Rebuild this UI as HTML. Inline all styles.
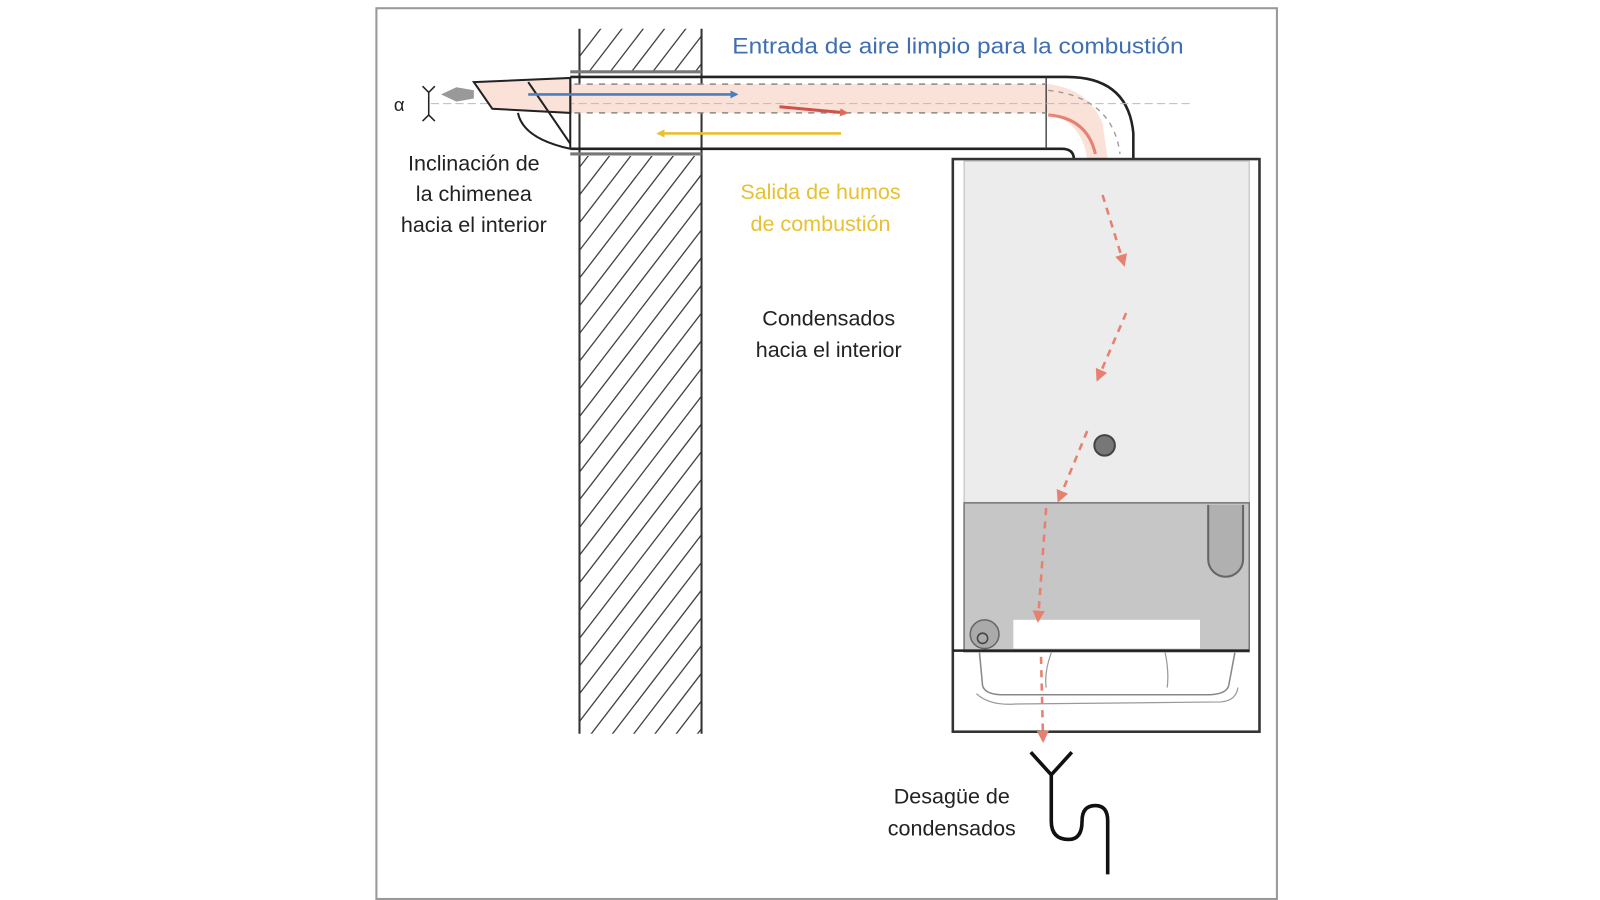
<!DOCTYPE html>
<html><head><meta charset="utf-8"><style>
html,body{margin:0;padding:0;background:#fff;width:1600px;height:900px;overflow:hidden;}
svg{display:block;}
text{font-family:"Liberation Sans",Arial,sans-serif;}
</style></head><body>
<svg width="1600" height="900" viewBox="0 0 1560 877" preserveAspectRatio="none" xmlns="http://www.w3.org/2000/svg">
<defs>
<clipPath id="wallclip"><rect x="565" y="28" width="119" height="687"/></clipPath>
<marker id="ar" markerWidth="8" markerHeight="8" refX="6" refY="4" orient="auto" markerUnits="userSpaceOnUse"><path d="M0,0 L8,4 L0,8 z" fill="#e06a5a"/></marker>
<marker id="ab" markerWidth="8" markerHeight="8" refX="6" refY="4" orient="auto" markerUnits="userSpaceOnUse"><path d="M0,0 L8,4 L0,8 z" fill="#4a7fc0"/></marker>
<marker id="ay" markerWidth="8" markerHeight="8" refX="6" refY="4" orient="auto" markerUnits="userSpaceOnUse"><path d="M0,0 L8,4 L0,8 z" fill="#e8c030"/></marker>
<marker id="ad" markerWidth="14" markerHeight="14" refX="10" refY="7" orient="auto" markerUnits="userSpaceOnUse"><path d="M0,1 L12,7 L0,13 z" fill="#e88070"/></marker>
</defs>
<rect x="367" y="8" width="878" height="868" fill="#fff" stroke="#999" stroke-width="2"/>
<!-- wall -->
<g clip-path="url(#wallclip)" stroke="#444" stroke-width="1.3">
<path d="M565,55 l119,-155 M565,82 l119,-155 M565,109 l119,-155 M565,136 l119,-155 M565,163 l119,-155 M565,190 l119,-155 M565,217 l119,-155 M565,244 l119,-155 M565,271 l119,-155 M565,298 l119,-155 M565,325 l119,-155 M565,352 l119,-155 M565,379 l119,-155 M565,406 l119,-155 M565,433 l119,-155 M565,460 l119,-155 M565,487 l119,-155 M565,514 l119,-155 M565,541 l119,-155 M565,568 l119,-155 M565,595 l119,-155 M565,622 l119,-155 M565,649 l119,-155 M565,676 l119,-155 M565,703 l119,-155 M565,730 l119,-155 M565,757 l119,-155 M565,784 l119,-155 M565,811 l119,-155 M565,838 l119,-155 M565,865 l119,-155"/>
</g>
<rect x="556" y="70" width="136" height="82" fill="#fff"/>
<line x1="565" y1="28" x2="565" y2="715" stroke="#333" stroke-width="2"/>
<line x1="684" y1="28" x2="684" y2="715" stroke="#333" stroke-width="2"/>
<line x1="556" y1="70" x2="684" y2="70" stroke="#777" stroke-width="3"/>
<line x1="556" y1="150" x2="684" y2="150" stroke="#777" stroke-width="3"/>
<!-- pipe -->
<rect x="556" y="82" width="470" height="28" fill="#fbe2d8"/>
<path d="M1020,82 Q1060,85 1075,120 L1080,155 L1060,155 Q1055,118 1020,110 z" fill="#fbe2d8"/>
<path d="M556,75 L1040,75 Q1100,75 1105,130 L1105,155" fill="none" stroke="#222" stroke-width="2.5"/>
<path d="M556,145 L1035,145 Q1047,145 1047,155" fill="none" stroke="#222" stroke-width="2.5"/>
<line x1="1020" y1="75" x2="1020" y2="145" stroke="#333" stroke-width="1.3"/>
<line x1="556" y1="75" x2="556" y2="145" stroke="#222" stroke-width="2"/>
<line x1="560" y1="82" x2="1020" y2="82" stroke="#888" stroke-width="1.5" stroke-dasharray="6,6"/>
<line x1="560" y1="110" x2="1020" y2="110" stroke="#888" stroke-width="1.5" stroke-dasharray="6,6"/>
<line x1="420" y1="101" x2="1160" y2="101" stroke="#bbb" stroke-width="1" stroke-dasharray="8,4"/>
<path d="M1022,88 Q1085,95 1092,150" fill="none" stroke="#999" stroke-width="1.3" stroke-dasharray="5,5"/>
<path d="M1022,112 Q1060,115 1068,150" fill="none" stroke="#e06a5a" stroke-width="3" opacity="0.8"/>
<!-- nozzle -->
<path d="M462,80 L556,76 L556,110 L480,106 z" fill="#fbe2d8" stroke="#222" stroke-width="2"/>
<path d="M515,80 L556,140" stroke="#222" stroke-width="2"/>
<path d="M505,110 Q510,135 556,145" fill="none" stroke="#222" stroke-width="2"/>
<path d="M430,92 L445,85 L462,88 L462,96 L445,99 z" fill="#999"/>
<text x="384" y="108" font-size="18" font-family="Liberation Serif,serif" fill="#222">α</text>
<path d="M412,84 L418,90 L424,84 M412,118 L418,112 L424,118 M418,90 L418,112" stroke="#222" stroke-width="1.5" fill="none"/>
<!-- flow arrows -->
<line x1="515" y1="92" x2="718" y2="92" stroke="#4a7fc0" stroke-width="2.5" marker-end="url(#ab)"/>
<line x1="760" y1="104" x2="825" y2="110" stroke="#d0504a" stroke-width="3" marker-end="url(#ar)"/>
<line x1="820" y1="130" x2="642" y2="130" stroke="#e8c030" stroke-width="2.5" marker-end="url(#ay)"/>
<!-- boiler -->
<rect x="929" y="155" width="299" height="558" fill="#fff" stroke="#333" stroke-width="2.5"/>
<path d="M940,157 L1218,157 L1218,490 L940,490 z" fill="#ececec" stroke="#bbb" stroke-width="1"/>
<rect x="940" y="490" width="278" height="145" fill="#c6c6c6" stroke="#777" stroke-width="1.5"/>
<path d="M1178,492 L1178,545 A17,17 0 0 0 1212,545 L1212,492" fill="#b0b0b0" stroke="#666" stroke-width="2"/>
<rect x="988" y="604" width="182" height="28" fill="#fff"/>
<circle cx="960" cy="618" r="14" fill="#aaa" stroke="#666" stroke-width="1.5"/>
<circle cx="958" cy="622" r="5" fill="none" stroke="#444" stroke-width="1.5"/>
<line x1="929" y1="634" x2="1218" y2="634" stroke="#222" stroke-width="2.5"/>
<path d="M955,636 L958,668 Q960,676 975,677 L1180,677 Q1196,676 1198,668 L1204,636" fill="none" stroke="#888" stroke-width="1.5"/>
<path d="M952,676 Q965,688 990,686 L1190,684 Q1205,683 1207,670" fill="none" stroke="#999" stroke-width="1.2"/>
<path d="M1025,636 Q1018,655 1020,670 M1136,636 Q1140,655 1138,670" fill="none" stroke="#999" stroke-width="1.2"/>
<circle cx="1077" cy="434" r="10" fill="#777" stroke="#444" stroke-width="2"/>
<!-- condensate arrows -->
<g stroke="#e88070" stroke-width="2.5" stroke-dasharray="7,6" fill="none">
<line x1="1075" y1="190" x2="1096" y2="258" marker-end="url(#ad)"/>
<line x1="1098" y1="305" x2="1070" y2="370" marker-end="url(#ad)"/>
<line x1="1060" y1="420" x2="1032" y2="488" marker-end="url(#ad)"/>
<line x1="1020" y1="495" x2="1012" y2="605" marker-end="url(#ad)"/>
<line x1="1015" y1="640" x2="1017" y2="722" marker-end="url(#ad)"/>
</g>
<!-- drain -->
<path d="M1005,733 L1025,755 L1045,733 M1025,755 L1025,800 Q1025,818 1042,818 Q1055,818 1055,800 Q1055,785 1068,785 Q1080,785 1080,800 L1080,852" fill="none" stroke="#111" stroke-width="3.5"/>
<!-- text -->
<text x="934" y="52" font-size="22" fill="#3f6fb0" text-anchor="middle" textLength="440" lengthAdjust="spacingAndGlyphs">Entrada de aire limpio para la combustión</text>
<g font-size="21" fill="#222" text-anchor="middle">
<text x="462" y="166">Inclinación de</text>
<text x="462" y="196">la chimenea</text>
<text x="462" y="226">hacia el interior</text>
<text x="808" y="317">Condensados</text>
<text x="808" y="348">hacia el interior</text>
<text x="928" y="783">Desagüe de</text>
<text x="928" y="814">condensados</text>
</g>
<g font-size="21" fill="#e8c030" text-anchor="middle">
<text x="800" y="194">Salida de humos</text>
<text x="800" y="225">de combustión</text>
</g>
</svg>
</body></html>
